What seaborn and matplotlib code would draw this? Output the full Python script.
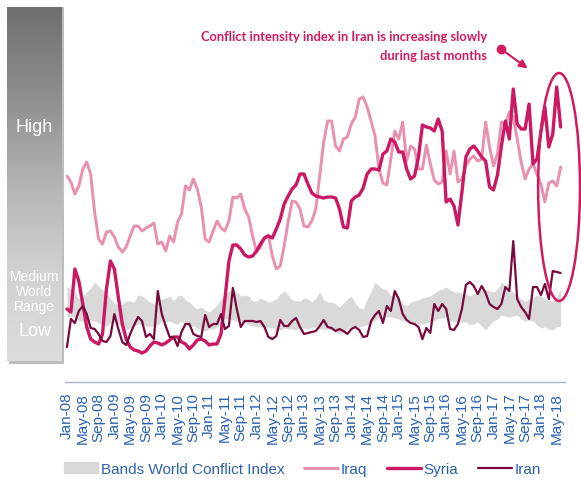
import numpy as np
import pandas as pd
import matplotlib
matplotlib.use("Agg")
import matplotlib.pyplot as plt
import seaborn as sns
from matplotlib.patches import Ellipse, Patch, Rectangle
from matplotlib.lines import Line2D

# monthly index values, Jan-08 .. Jun-18
months = pd.date_range("2008-01-01", periods=126, freq="MS")

iraq = [206, 200, 188, 196, 213, 220, 208, 170, 143, 138, 150, 151, 145, 135, 130, 135,
        146, 156, 156, 151, 154, 156, 159, 138, 140, 131, 146, 140, 160, 168, 196, 192,
        203, 193, 175, 143, 140, 151, 161, 154, 151, 161, 185, 184, 188, 173, 165, 146,
        130, 135, 144, 147, 126, 113, 116, 136, 160, 181, 180, 173, 156, 155, 161, 173,
        206, 240, 261, 261, 236, 231, 243, 245, 258, 265, 283, 285, 275, 261, 246, 213,
        199, 197, 223, 251, 243, 260, 221, 236, 233, 213, 213, 237, 218, 202, 198, 200,
        231, 208, 231, 200, 203, 216, 223, 226, 221, 223, 260, 235, 216, 228, 260, 257,
        270, 265, 243, 220, 203, 213, 218, 208, 198, 180, 199, 201, 196, 215]

syria = [73, 70, 113, 101, 78, 55, 43, 40, 38, 48, 93, 121, 113, 85, 58, 43,
         35, 32, 31, 29, 31, 36, 40, 39, 37, 39, 42, 45, 45, 40, 38, 33,
         37, 42, 43, 41, 37, 38, 38, 48, 83, 121, 137, 137, 133, 127, 125, 126,
         131, 138, 144, 146, 144, 153, 163, 178, 186, 193, 197, 208, 208, 198, 189, 186,
         185, 184, 185, 185, 184, 173, 155, 154, 181, 185, 187, 194, 208, 213, 213, 212,
         228, 231, 243, 240, 230, 230, 213, 203, 206, 225, 257, 255, 254, 251, 263, 251,
         180, 183, 176, 157, 190, 225, 233, 236, 231, 225, 221, 195, 192, 207, 236, 261,
         243, 293, 258, 253, 253, 278, 218, 223, 250, 275, 235, 248, 295, 255]

iran = [35, 63, 59, 71, 76, 68, 54, 53, 48, 41, 40, 46, 68, 53, 40, 37,
        48, 57, 65, 61, 45, 48, 43, 91, 68, 56, 45, 45, 36, 50, 58, 58,
        48, 46, 45, 67, 55, 58, 58, 68, 53, 56, 94, 73, 55, 61, 61, 61,
        60, 61, 55, 45, 43, 46, 62, 56, 56, 61, 64, 55, 48, 49, 50, 51,
        56, 62, 55, 54, 51, 53, 51, 48, 53, 55, 52, 45, 46, 61, 67, 71,
        59, 76, 71, 91, 83, 68, 62, 59, 58, 55, 43, 54, 49, 78, 71, 78,
        73, 53, 52, 58, 73, 97, 100, 96, 88, 96, 89, 78, 75, 73, 78, 95,
        91, 141, 83, 75, 70, 63, 95, 95, 87, 98, 83, 111, 110, 109]

band_high = [95, 93, 90, 83, 86, 90, 94, 100, 96, 92, 90, 83, 79, 76, 78, 81,
             81, 80, 87, 86, 83, 80, 78, 82, 83, 84, 86, 81, 86, 87, 82, 80,
             76, 73, 75, 72, 70, 73, 77, 83, 87, 91, 93, 90, 86, 87, 86, 81,
             81, 84, 82, 80, 81, 83, 88, 91, 87, 82, 81, 81, 84, 83, 80, 84,
             90, 82, 80, 80, 78, 75, 79, 83, 86, 79, 74, 73, 83, 91, 100, 96,
             93, 92, 86, 89, 84, 79, 76, 80, 81, 82, 84, 85, 86, 89, 92, 93,
             95, 92, 90, 90, 89, 88, 86, 88, 90, 92, 93, 91, 90, 93, 100, 96,
             93, 90, 86, 83, 81, 83, 85, 87, 86, 83, 82, 81, 85, 93]

band_low = [65, 66, 65, 61, 61, 60, 62, 61, 59, 57, 56, 59, 60, 58, 55, 52,
            54, 56, 58, 57, 56, 56, 56, 57, 61, 60, 61, 59, 58, 61, 57, 56,
            56, 54, 52, 51, 53, 53, 55, 58, 63, 63, 62, 61, 60, 60, 57, 56,
            56, 55, 54, 55, 54, 52, 52, 54, 53, 53, 52, 54, 54, 53, 55, 55,
            53, 53, 53, 52, 50, 48, 50, 53, 56, 55, 55, 56, 57, 58, 62, 64,
            65, 65, 65, 64, 63, 61, 61, 60, 58, 58, 58, 59, 60, 61, 64, 64,
            65, 61, 60, 61, 60, 60, 57, 58, 60, 56, 52, 57, 61, 63, 67, 66,
            65, 66, 67, 63, 61, 62, 61, 57, 54, 55, 53, 52, 55, 56]

countries = ["Iraq", "Syria", "Iran"]
colors = {"Iraq": "#e98fb0", "Syria": "#cc1862", "Iran": "#78093c"}
widths = {"Iraq": 2.1, "Syria": 2.4, "Iran": 1.6}
blue = "#2a62b0"

x = np.arange(len(months))
df = pd.DataFrame({"idx": x, "Iraq": iraq, "Syria": syria, "Iran": iran,
                   "low": band_low, "high": band_high})
long_df = df.melt(id_vars="idx", value_vars=countries, var_name="country", value_name="value")

sns.set_theme(style="white")
plt.rcParams["font.family"] = ["Liberation Sans", "DejaVu Sans"]

fig = plt.figure(figsize=(5.81, 4.81), dpi=100)
W, H = 581, 481

# main axes: from x=65 to 565 px, from top down to the axis line at 383 px
ax = fig.add_axes([65 / W, (H - 383) / H, 500 / W, 383 / H])
ax.fill_between(df["idx"], df["low"], df["high"], color="#d9d9d9", lw=0, zorder=1)
for c in countries:
    sns.lineplot(data=long_df[long_df["country"] == c], x="idx", y="value",
                 color=colors[c], linewidth=widths[c], ax=ax, legend=False, zorder=3)

ax.set_xlim(-0.5, 126.1)
ax.set_ylim(0, 383)
ax.set_xlabel("")
ax.set_ylabel("")
ax.set_yticks([])
tick_idx = x[::4]
ax.set_xticks(tick_idx)
ax.set_xticklabels([months[i].strftime("%b-%y") for i in tick_idx], rotation=90,
                   color=blue, fontsize=11)
ax.tick_params(axis="x", length=0, pad=7)
for s in ["top", "left", "right"]:
    ax.spines[s].set_visible(False)
ax.spines["bottom"].set_color("#a8b3d0")
ax.spines["bottom"].set_linewidth(1)

# annotation
pink = "#d21a60"
ax.add_patch(Ellipse((124.6, 195), 10.6, 228, fill=False, ec=pink, lw=1.8,
                     clip_on=False, zorder=4))
ax.text(106.3, 346, "Conflict intensity index in Iran is increasing slowly",
        ha="right", va="center", color=pink, fontsize=9.3, fontweight="bold",
        family="Lato")
ax.text(106.3, 327, "during last months", ha="right", va="center", color=pink,
        fontsize=9.3, fontweight="bold", family="Lato")
ax.annotate("", xy=(117.2, 312), xytext=(109.9, 333),
            arrowprops=dict(arrowstyle="-|>", color=pink, lw=1.5, mutation_scale=12),
            annotation_clip=False)
ax.plot([109.9], [333], "o", color=pink, ms=6, clip_on=False)

# left gradient scale bar
shadow = fig.add_axes([9 / W, (H - 365) / H, 55 / W, 357 / H])
shadow.add_patch(Rectangle((0, 0), 1, 1, color="#bdbdbd"))
shadow.axis("off")
bar = fig.add_axes([7 / W, (H - 362) / H, 55 / W, 354 / H])
grad = np.linspace(0, 1, 256).reshape(-1, 1)
cmap = matplotlib.colors.LinearSegmentedColormap.from_list(
    "g", ["#6f6f6f", "#8e8e8e", "#b4b4b4", "#d2d2d2", "#dcdcdc"])
bar.imshow(grad, aspect="auto", cmap=cmap, extent=[0, 1, 1, 0])
bar.set_xlim(0, 1)
bar.set_ylim(1, 0)
bar.axis("off")
bar.text(0.5, (128 - 8) / 354, "High", ha="center", va="center", color="white", fontsize=13)
bar.text(0.5, (277 - 8) / 354, "Medium", ha="center", va="center", color="white", fontsize=10)
bar.text(0.5, (292 - 8) / 354, "World", ha="center", va="center", color="white", fontsize=10)
bar.text(0.5, (307 - 8) / 354, "Range", ha="center", va="center", color="white", fontsize=10)
bar.text(0.5, (332 - 8) / 354, "Low", ha="center", va="center", color="white", fontsize=13)

# legend
handles = [Patch(color="#d9d9d9", label="Bands World Conflict Index")] + \
    [Line2D([], [], color=colors[c], lw=widths[c], label=c) for c in countries]
fig.legend(handles=handles, loc="center left", bbox_to_anchor=(58 / W, (H - 470) / H),
           ncol=4, frameon=False, fontsize=11, labelcolor=blue, handlelength=2.2,
           handletextpad=0.2, columnspacing=1.3, borderaxespad=0)

fig.savefig("out.png", dpi=100)
